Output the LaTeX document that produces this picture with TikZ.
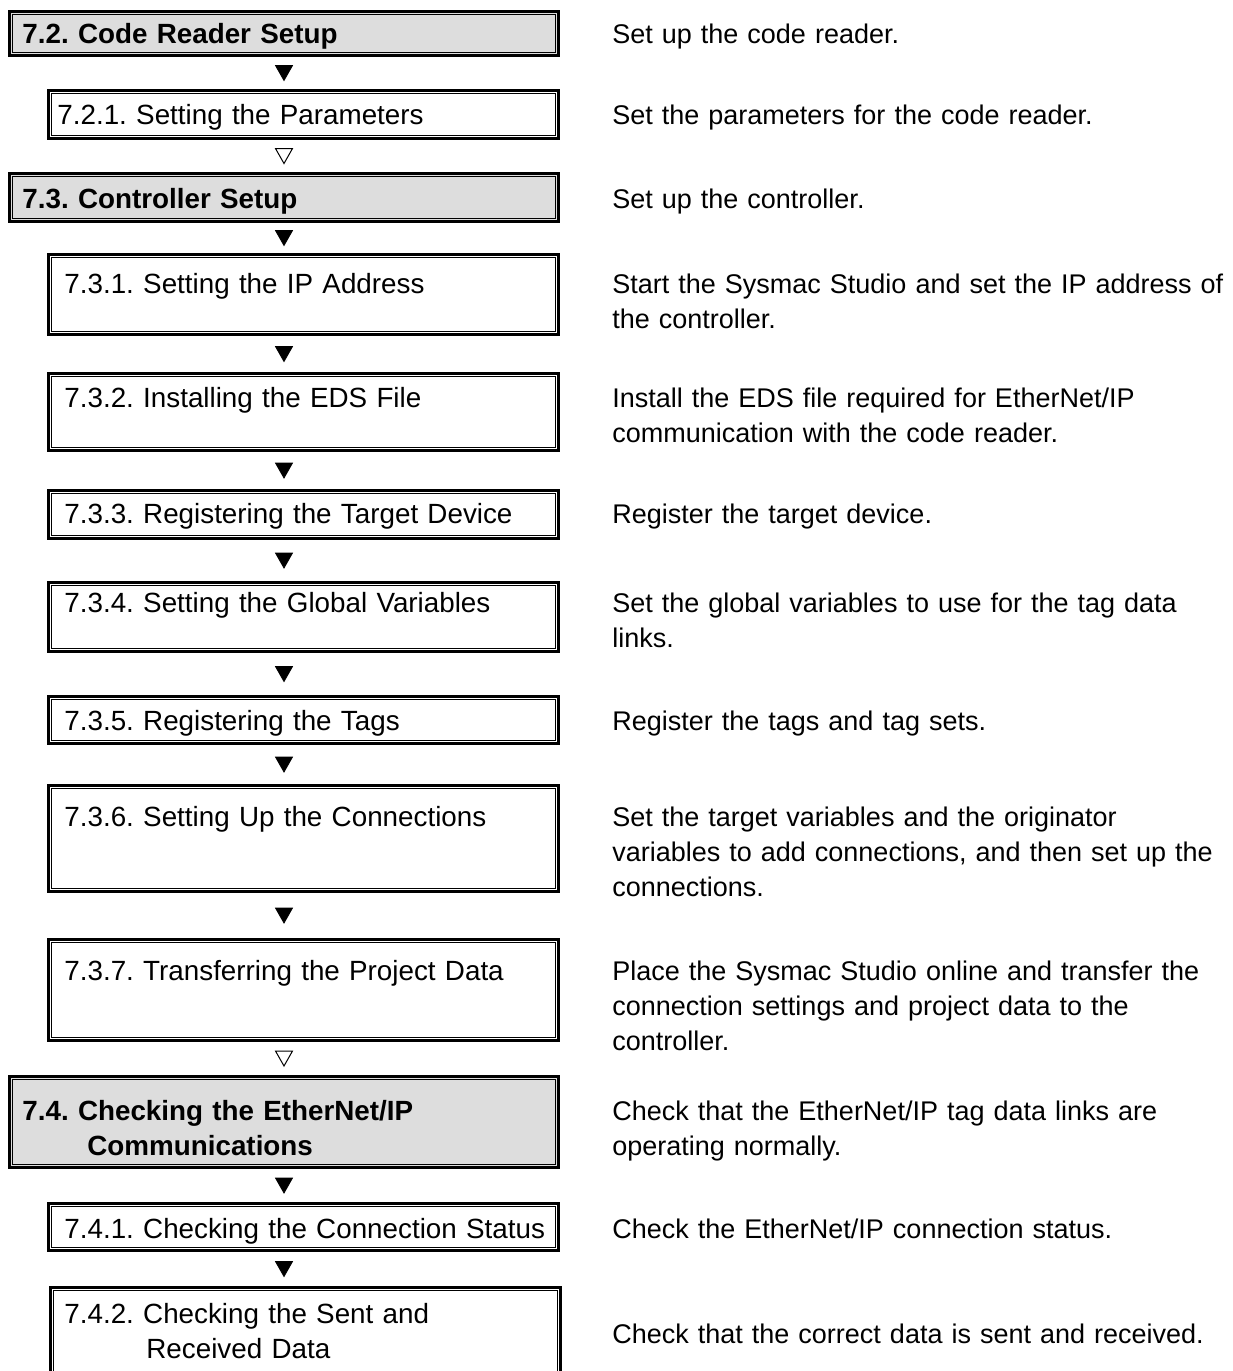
\documentclass[tikz,border=0pt]{standalone}
\usepackage{fontspec}
\setmainfont{Liberation Sans}
\usetikzlibrary{calc}
\definecolor{headgray}{RGB}{221,221,221}
\frenchspacing

\tikzset{
  mainbox/.style={draw, line width=1.5pt, fill=headgray, anchor=north west, inner sep=0pt, minimum width=274.5pt},
  subbox/.style={draw, line width=1.5pt, fill=white, anchor=north west, inner sep=0pt, minimum width=255pt},
  boxtext/.style={anchor=base west, inner sep=0pt, text width=270pt, align=left, font=\fontsize{13.9pt}{17.5pt}\selectfont},
  desc/.style={anchor=base west, inner sep=0pt, text width=320pt, align=left, font=\fontsize{13.5pt}{17.5pt}\selectfont},
  fullmark/.style={fill=black},
  openmark/.style={draw=black, line width=0.5pt, fill=white}
}

\begin{document}
\begin{tikzpicture}[x=0.5pt,y=-0.5pt]
  \useasboundingbox (0,0) rectangle (1232,1371);
  \clip (0,0) rectangle (1232,1371);

  % steps on the left
  \node (b72)  [mainbox, minimum height=22pt]   at (8,10)   {};
  \node (b721) [subbox,  minimum height=24pt]   at (47,89)  {};
  \node (b73)  [mainbox, minimum height=24pt]   at (8,172)  {};
  \node (b731) [subbox,  minimum height=40pt]   at (47,253) {};
  \node (b732) [subbox,  minimum height=38.5pt] at (47,372) {};
  \node (b733) [subbox,  minimum height=24pt]   at (47,489) {};
  \node (b734) [subbox,  minimum height=34.5pt] at (47,581) {};
  \node (b735) [subbox,  minimum height=23.5pt] at (47,695) {};
  \node (b736) [subbox,  minimum height=53pt]   at (47,784) {};
  \node (b737) [subbox,  minimum height=50.5pt] at (47,938) {};
  \node (b74)  [mainbox, minimum height=45.5pt] at (8,1075) {};
  \node (b741) [subbox,  minimum height=23.5pt] at (47,1202) {};
  \node (b742) [subbox,  minimum height=58.5pt] at (49,1286) {};

  % thin inner line of the double frames
  \foreach \b in {b72,b721,b73,b731,b732,b733,b734,b735,b736,b737,b74,b741,b742}
    \draw[line width=0.5pt] ([xshift=2.25pt,yshift=-2.25pt]\b.north west) rectangle ([xshift=-2.25pt,yshift=2.25pt]\b.south east);

  \node (t72)  [boxtext] at (22,43)   {\textbf{7.2. Code Reader Setup}};
  \node (t721) [boxtext] at (57,124)  {7.2.1. Setting the Parameters};
  \node (t73)  [boxtext] at (22,208)  {\textbf{7.3. Controller Setup}};
  \node (t731) [boxtext] at (64,293)  {7.3.1. Setting the IP Address};
  \node (t732) [boxtext] at (64,407)  {7.3.2. Installing the EDS File};
  \node (t733) [boxtext] at (64,523)  {7.3.3. Registering the Target Device};
  \node (t734) [boxtext] at (64,612)  {7.3.4. Setting the Global Variables};
  \node (t735) [boxtext] at (64,730)  {7.3.5. Registering the Tags};
  \node (t736) [boxtext] at (64,826)  {7.3.6. Setting Up the Connections};
  \node (t737) [boxtext] at (64,980)  {7.3.7. Transferring the Project Data};
  \node (t74)  [boxtext] at (22,1120) {\textbf{7.4. Checking the EtherNet/IP}\\\hspace*{32.5pt}\textbf{Communications}};
  \node (t741) [boxtext] at (64,1238) {7.4.1. Checking the Connection Status};
  \node (t742) [boxtext] at (64,1323) {7.4.2. Checking the Sent and\\\hspace*{41pt}Received Data};

  % marks between the steps
  \foreach \from/\to/\kind in {b72/b721/fullmark,b721/b73/openmark,b73/b731/fullmark,b731/b732/fullmark,
      b732/b733/fullmark,b733/b734/fullmark,b734/b735/fullmark,b735/b736/fullmark,b736/b737/fullmark,
      b737/b74/openmark,b74/b741/fullmark,b741/b742/fullmark}
    \draw[\kind] ($(b72.south |- \from.south)!.5!(b72.south |- \to.north)$) ++(-8.5,-7.5) -- ++(17,0) -- ++(-8.5,15) -- cycle;

  % descriptions on the right
  \node (d72)  [desc] at (612,43)   {Set up the code reader.};
  \node (d721) [desc] at (612,124)  {Set the parameters for the code reader.};
  \node (d73)  [desc] at (612,208)  {Set up the controller.};
  \node (d731) [desc] at (612,293)  {Start the Sysmac Studio and set the IP address of\\the controller.};
  \node (d732) [desc] at (612,407)  {Install the EDS file required for EtherNet/IP\\communication with the code reader.};
  \node (d733) [desc] at (612,523)  {Register the target device.};
  \node (d734) [desc] at (612,612)  {Set the global variables to use for the tag data\\links.};
  \node (d735) [desc] at (612,730)  {Register the tags and tag sets.};
  \node (d736) [desc] at (612,826)  {Set the target variables and the originator\\variables to add connections, and then set up the\\connections.};
  \node (d737) [desc] at (612,980)  {Place the Sysmac Studio online and transfer the\\connection settings and project data to the\\controller.};
  \node (d74)  [desc] at (612,1120) {Check that the EtherNet/IP tag data links are\\operating normally.};
  \node (d741) [desc] at (612,1238) {Check the EtherNet/IP connection status.};
  \node (d742) [desc] at (612,1343) {Check that the correct data is sent and received.};
\end{tikzpicture}
\end{document}
